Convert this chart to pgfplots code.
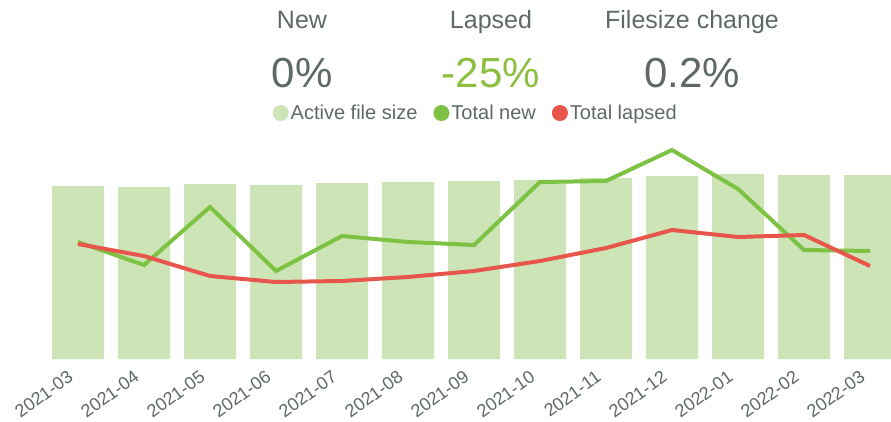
\documentclass[border=0pt]{standalone}
\usepackage{fontspec}
\setmainfont{Liberation Sans}
\usepackage{pgfplots}
\pgfplotsset{compat=1.18}
\definecolor{barc}{HTML}{CDE5B6}
\definecolor{newc}{HTML}{7DC242}
\definecolor{lapc}{HTML}{E8554A}
\definecolor{txt}{HTML}{5F6869}
\definecolor{kpig}{HTML}{8CBF3F}
\begin{document}
\begin{tikzpicture}[x=1pt,y=1pt]
\begin{axis}[
  at={(0pt,0pt)}, anchor=south west,
  scale only axis, width=839pt, height=220pt,
  xmin=-0.394, xmax=12.318, ymin=0, ymax=220,
  axis line style={draw=none},
  xtick={0,...,12},
  xticklabels={2021-03,2021-04,2021-05,2021-06,2021-07,2021-08,2021-09,2021-10,2021-11,2021-12,2022-01,2022-02,2022-03},
  xticklabel style={xshift=-11pt, yshift=-9pt, rotate=36, anchor=north east, font=\fontsize{18}{20}\selectfont, text=txt, inner sep=1pt},
  ytick=\empty,
  hide y axis,
  major tick length=0pt,
  legend columns=3,
  legend image code/.code={\fill[#1, draw=none] (4pt,0pt) circle (8pt);},
  legend style={draw=none, fill=none, at={(0.505,1.118)}, anchor=center,
    font=\fontsize{20}{22}\selectfont, text=txt,
    /tikz/every even column/.append style={column sep=14pt},
    inner xsep=0pt},
]
\addlegendimage{fill=barc}
\addlegendentry{Active file size}
\addlegendimage{fill=newc}
\addlegendentry{Total new}
\addlegendimage{fill=lapc}
\addlegendentry{Total lapsed}
\addplot[ybar, bar width=52pt, fill=barc, draw=none, forget plot] coordinates {
(0,173) (1,172) (2,175) (3,174) (4,176) (5,177) (6,178) (7,179) (8,181) (9,183) (10,185) (11,184) (12,184)};
\addplot[newc, line width=4pt, forget plot] coordinates {
(0,117) (1,94) (2,152) (3,88) (4,123) (5,117) (6,114) (7,177) (8,178) (9,209) (10,170) (11,109) (12,108)};
\addplot[lapc, line width=4pt, forget plot] coordinates {
(0,115) (1,103) (2,83) (3,77) (4,78) (5,82) (6,88) (7,98) (8,111) (9,129) (10,122) (11,124) (12,93)};
\end{axis}
\node[anchor=base, text=txt, font=\fontsize{25}{28}\selectfont] at (250,330) {New};
\node[anchor=base, text=txt, font=\fontsize{25}{28}\selectfont] at (439,330) {Lapsed};
\node[anchor=base, text=txt, font=\fontsize{25}{28}\selectfont] at (640,330) {Filesize change};
\node[anchor=base, text=txt, font=\fontsize{42}{46}\selectfont] at (250,271) {0\%};
\node[anchor=base, text=kpig, font=\fontsize{42}{46}\selectfont] at (439,271) {-25\%};
\node[anchor=base, text=txt, font=\fontsize{42}{46}\selectfont] at (640,271) {0.2\%};
\pgfresetboundingbox
\path[use as bounding box] (-52,-62) rectangle (839,359);
\end{tikzpicture}
\end{document}
